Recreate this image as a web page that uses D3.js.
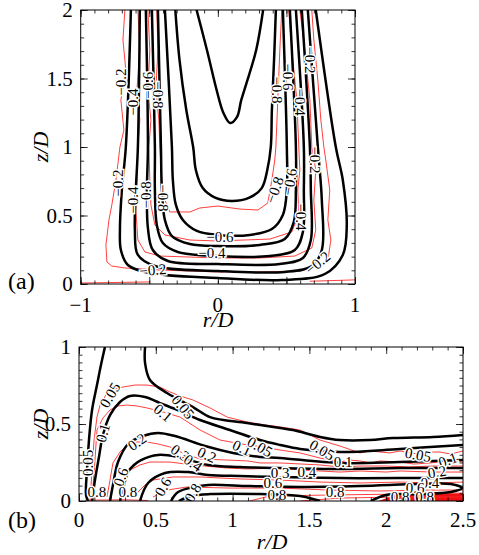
<!DOCTYPE html>
<html><head><meta charset="utf-8">
<script src="https://cdn.jsdelivr.net/npm/d3@7"></script>
<style>body{margin:0;background:#fff}svg{display:block}text{font-family:"Liberation Serif","Times New Roman",serif}</style>
</head><body>
<script>
// ---------- Panel (a) data: r/D, z/D ----------
const aXTicks = [-1, 0, 1];
const aXTickLabels = ["\u22121", "0", "1"];
const aYTicks = [0, 0.5, 1, 1.5, 2];
const aYTickLabels = ["0", "0.5", "1", "1.5", "2"];

const aBlackInner = [[-0.155,2],[-0.08,1.71],[-0.01,1.42],[0.04,1.25],[0.09,1.175],[0.14,1.22],[0.17,1.34],[0.21,1.47],[0.28,1.71],[0.33,2]];
const aBlackU1 = [[-0.31,2],[-0.28,1.64],[-0.23,1.27],[-0.18,1.0],[-0.16,0.83],[-0.11,0.70],[-0.02,0.63],[0.10,0.606],[0.23,0.63],[0.32,0.70],[0.36,0.83],[0.386,1.0],[0.394,1.27],[0.41,1.64],[0.423,2]];
const aBlackU2 = [[-0.386,2],[-0.335,1.0],[-0.328,0.759],[-0.306,0.577],[-0.255,0.467],[-0.153,0.387],[0,0.358],[0.233,0.358],[0.394,0.401],[0.474,0.504],[0.503,0.686],[0.503,1.0],[0.474,2]];
const aBlackU3 = [[-0.437,2],[-0.415,1],[-0.408,0.686],[-0.386,0.467],[-0.335,0.35],[-0.204,0.292],[0,0.277],[0.306,0.285],[0.488,0.328],[0.554,0.453],[0.569,0.686],[0.569,1],[0.525,2]];
const aBlackU4 = [[-0.481,2],[-0.459,1],[-0.459,0.686],[-0.445,0.431],[-0.401,0.299],[-0.292,0.234],[0,0.204],[0.379,0.204],[0.561,0.248],[0.620,0.380],[0.627,0.686],[0.627,1],[0.569,2]];
const aBlackU5 = [[-0.525,2],[-0.510,1],[-0.517,0.686],[-0.510,0.409],[-0.474,0.248],[-0.364,0.168],[0,0.146],[0.452,0.146],[0.62,0.19],[0.678,0.321],[0.678,0.686],[0.671,1],[0.612,2]];
const aBlackU6 = [[-0.569,2],[-0.583,1],[-0.598,0.686],[-0.605,0.394],[-0.583,0.212],[-0.459,0.131],[0,0.095],[0.488,0.088],[0.685,0.131],[0.758,0.248],[0.758,0.613],[0.729,1],[0.656,2]];
const aBlackU7 = [[-0.634,2],[-0.671,1],[-0.70,0.686],[-0.714,0.394],[-0.707,0.248],[-0.656,0.139],[-0.496,0.080],[0,0.044],[0.466,0.029],[0.78,0.073],[0.911,0.212],[0.94,0.431],[0.911,0.759],[0.86,1],[0.714,2]];
const aBlack = [aBlackInner, aBlackU1, aBlackU2, aBlackU3, aBlackU4, aBlackU5, aBlackU6, aBlackU7];

const aRedA = [[-0.678,2],[-0.692,1.781],[-0.671,1.562],[-0.707,1.343],[-0.685,1.124],[-0.714,1],[-0.743,0.759],[-0.773,0.577],[-0.794,0.467],[-0.816,0.285],[-0.809,0.161],[-0.773,0.131],[-0.678,0.117],[-0.423,0.102],[0,0.088],[0.306,0.088],[0.598,0.095],[0.743,0.131],[0.802,0.175],[0.824,0.321],[0.802,0.467],[0.816,0.686],[0.787,0.905],[0.773,1],[0.751,1.197],[0.729,1.489],[0.700,1.781],[0.685,2]];
const aRedB = [[-0.583,2],[-0.569,1.708],[-0.590,1.416],[-0.569,1.197],[-0.583,1],[-0.590,0.759],[-0.598,0.540],[-0.583,0.321],[-0.532,0.234],[-0.423,0.204],[0,0.190],[0.306,0.190],[0.561,0.204],[0.685,0.263],[0.714,0.394],[0.700,0.613],[0.714,0.832],[0.685,1],[0.671,1.343],[0.634,1.708],[0.598,2]];
const aRedC = [[-0.510,2],[-0.496,1.708],[-0.510,1.416],[-0.488,1.197],[-0.503,1],[-0.496,0.759],[-0.488,0.577],[-0.459,0.431],[-0.386,0.358],[-0.204,0.321],[0,0.314],[0.379,0.328],[0.539,0.380],[0.590,0.504],[0.583,0.686],[0.598,0.832],[0.590,1],[0.576,1.343],[0.539,1.708],[0.517,2]];
const aRedD = [[-0.445,2],[-0.437,1.708],[-0.452,1.416],[-0.430,1.197],[-0.423,1],[-0.408,0.759],[-0.386,0.613],[-0.350,0.526],[-0.204,0.526],[-0.131,0.555],[0,0.569],[0.160,0.547],[0.292,0.540],[0.364,0.591],[0.394,0.759],[0.415,0.905],[0.423,1],[0.437,1.343],[0.452,1.708],[0.466,2]];
const aRedBase1 = [[-1,0.007],[-0.5,0.015]];
const aRedBase2 = [[0.67,0.02],[1,0.03]];
const aRed = [aRedA, aRedB, aRedC, aRedD, aRedBase1, aRedBase2];

const aLabels = [
  [-0.707,1.474,"\u22120.2",-90],[-0.620,1.328,"\u22120.4",-90],[-0.510,1.45,"\u22120.6",-90],[-0.437,1.38,"\u22120.8",90],
  [-0.729,0.737,"\u22120.2",-90],[-0.620,0.613,"\u22120.4",-90],[-0.525,0.650,"\u22120.8",-90],[-0.401,0.628,"\u22120.8",90],
  [0.015,0.343,"\u22120.6",0],[-0.044,0.226,"\u22120.4",0],[-0.474,0.102,"\u22120.2",-5],
  [0.430,1.416,"\u22120.8",90],[0.510,1.511,"\u22120.6",90],[0.598,1.328,"\u22120.4",90],[0.671,1.635,"\u22120.2",90],
  [0.415,0.686,"\u22120.8",-70],[0.525,0.745,"\u22120.6",-80],[0.605,0.489,"\u22120.4",90],[0.707,0.905,"\u22120.2",90],
  [0.729,0.153,"\u22120.2",-40]
];

// ---------- Panel (b) data ----------
const bXTicks = [0, 0.5, 1, 1.5, 2, 2.5];
const bXTickLabels = ["0", "0.5", "1", "1.5", "2", "2.5"];
const bYTicks = [0, 0.5, 1];
const bYTickLabels = ["0", "0.5", "1"];

const bBlackWall = [[0.169,1],[0.143,0.883],[0.117,0.753],[0.085,0.591],[0.065,0.396],[0.052,0.201],[0.046,0.039],[0.059,0]];
const bBlack005 = [[0.430,1],[0.430,0.896],[0.462,0.786],[0.573,0.701],[0.742,0.610],[0.853,0.545],[1.094,0.506],[1.309,0.474],[1.393,0.461],[1.569,0.416],[1.699,0.396],[1.895,0.396],[2.044,0.409],[2.305,0.416],[2.5,0.429]];
const bBlack01 = [[0.085,0],[0.104,0.136],[0.130,0.286],[0.156,0.429],[0.202,0.558],[0.267,0.643],[0.332,0.682],[0.430,0.675],[0.527,0.636],[0.658,0.584],[0.788,0.526],[0.983,0.461],[1.178,0.396],[1.309,0.364],[1.439,0.338],[1.699,0.318],[2.090,0.338],[2.5,0.364]];
const bBlack02 = [[0.202,0],[0.221,0.104],[0.254,0.253],[0.319,0.370],[0.417,0.422],[0.515,0.442],[0.625,0.422],[0.821,0.357],[1.003,0.312],[1.178,0.286],[1.309,0.279],[1.699,0.247],[2.090,0.253],[2.5,0.266]];
const bBlack03 = [[0.267,0],[0.293,0.104],[0.319,0.188],[0.358,0.234],[0.404,0.266],[0.515,0.299],[0.645,0.286],[0.840,0.234],[1.048,0.221],[1.309,0.214],[1.699,0.208],[2.090,0.214],[2.5,0.214]];
const bBlack04 = [[0.397,0],[0.450,0.117],[0.560,0.182],[0.710,0.188],[0.840,0.169],[1.048,0.162],[1.309,0.156],[1.699,0.149],[2.090,0.149],[2.5,0.149]];
const bBlack06 = [[0.599,0],[0.645,0.058],[0.753,0.091],[0.840,0.104],[1.111,0.097],[1.439,0.091],[1.829,0.097],[2.220,0.110],[2.420,0.110],[2.493,0.084],[2.420,0.058],[2.220,0.045],[2.000,0.039],[1.900,0]];
const bBlack08 = [[0.650,0],[0.730,0.032],[0.853,0.045],[1.178,0.045],[1.439,0.032],[1.569,0]];
const bBlack = [bBlackWall, bBlack005, bBlack01, bBlack02, bBlack03, bBlack04, bBlack06, bBlack08];

const bRed1 = [[0.072,0],[0.085,0.201],[0.098,0.396],[0.117,0.545],[0.137,0.623],[0.182,0.701],[0.234,0.727],[0.286,0.740],[0.365,0.753],[0.443,0.753],[0.527,0.740],[0.592,0.708],[0.658,0.682],[0.742,0.656],[0.853,0.604],[0.964,0.545],[1.094,0.513],[1.211,0.494],[1.309,0.481],[1.439,0.461],[1.569,0.396],[1.699,0.357],[1.829,0.312],[1.895,0.325],[1.960,0.318],[2.025,0.312],[2.090,0.325],[2.155,0.312],[2.220,0.305],[2.285,0.318],[2.350,0.318],[2.420,0.305],[2.5,0.325]];
const bRed2 = [[0.091,0.091],[0.104,0.266],[0.117,0.461],[0.156,0.539],[0.202,0.591],[0.254,0.617],[0.313,0.623],[0.378,0.617],[0.443,0.604],[0.547,0.578],[0.658,0.545],[0.788,0.461],[0.918,0.396],[1.094,0.364],[1.200,0.351],[1.309,0.331],[1.439,0.312],[1.569,0.279],[1.640,0.266],[1.699,0.253],[1.760,0.266],[1.829,0.260],[1.900,0.247],[1.960,0.260],[2.090,0.253],[2.180,0.240],[2.285,0.247],[2.400,0.260],[2.5,0.253]];
const bRed3 = [[0.182,0.026],[0.202,0.136],[0.221,0.247],[0.267,0.318],[0.313,0.364],[0.378,0.383],[0.443,0.383],[0.515,0.370],[0.592,0.351],[0.690,0.305],[0.788,0.273],[0.964,0.266],[1.100,0.260],[1.178,0.247],[1.309,0.247],[1.450,0.240],[1.569,0.234],[1.700,0.221],[1.829,0.227],[2.000,0.227],[2.150,0.221],[2.300,0.227],[2.5,0.227]];
const bRed4 = [[0.254,0.071],[0.293,0.149],[0.332,0.201],[0.397,0.234],[0.462,0.253],[0.592,0.253],[0.742,0.234],[0.964,0.214],[1.100,0.208],[1.309,0.214],[1.450,0.201],[1.569,0.195],[1.699,0.188],[1.829,0.195],[2.000,0.188],[2.090,0.195],[2.300,0.188],[2.5,0.188]];
const bRed5 = [[0.378,0.052],[0.430,0.104],[0.482,0.136],[0.612,0.156],[0.788,0.156],[1.048,0.143],[1.309,0.136],[1.569,0.123],[1.829,0.117],[2.090,0.123],[2.300,0.117],[2.5,0.123]];
const bRed6 = [[0.482,0.026],[0.573,0.071],[0.703,0.091],[0.983,0.084],[1.309,0.084],[1.634,0.071],[1.960,0.065],[2.285,0.071],[2.5,0.071]];
const bRed7 = [[1.111,0],[1.240,0.032],[1.634,0.039],[2.090,0.045],[2.5,0.052]];
const bRed8 = [[1.439,0],[1.699,0.019],[2.090,0.026],[2.5,0.026]];
const bRed9 = [[0.04,0.005],[0.3,0.008],[0.45,0.003]];
const bRed = [bRed1, bRed2, bRed3, bRed4, bRed5, bRed6, bRed7, bRed8, bRed9];
const bRedFill = [[1.95,0],[2.05,0.035],[2.3,0.045],[2.5,0.05],[2.5,0]];

const bLabels = [
  [0.202,0.688,"0.05",-60],[0.156,0.442,"0.1",-75],[0.059,0.247,"0.05",-90],[0.378,0.383,"0.2",-35],
  [0.677,0.610,"0.05",50],[0.547,0.571,"0.1",40],[0.658,0.312,"0.3",35],[0.742,0.247,"0.4",35],
  [0.833,0.299,"0.2",25],[1.061,0.344,"0.1",25],[1.178,0.351,"0.05",30],
  [0.547,0.091,"0.6",-60],[0.742,0.052,"0.8",-60],[0.273,0.156,"0.6",-70],[0.117,0.058,"0.8",0],[0.319,0.058,"0.8",0],
  [1.309,0.182,"0.3",0],[1.484,0.188,"0.4",0],[1.263,0.117,"0.6",0],[1.289,0.039,"0.8",0],
  [1.582,0.331,"0.05",30],[1.719,0.253,"0.1",0],
  [2.207,0.299,"0.05",10],[2.402,0.266,"0.1",-20],[2.331,0.188,"0.2",-10],[2.285,0.117,"0.4",0],[2.188,0.084,"0.6",0],
  [1.667,0.058,"0.8",0],[2.09,0.026,"0.8",0],[2.25,0.026,"0.8",0]
];

// ---------- Drawing ----------
const W = 479, H = 555;
const svg = d3.select("body").append("svg").attr("width", W).attr("height", H);

const xA = d3.scaleLinear().domain([-1, 1]).range([80.7, 355]);
const yA = d3.scaleLinear().domain([0, 2]).range([284, 10]);
const xB = d3.scaleLinear().domain([0, 2.5]).range([79, 463]);
const yB = d3.scaleLinear().domain([0, 1]).range([501, 347]);

function panel(id, x, y, black, red, labels, redFill) {
  const g = svg.append("g");
  const [x0, x1] = x.range(), [y0, y1] = y.range();
  svg.append("clipPath").attr("id", id).append("rect")
    .attr("x", x0).attr("y", y1).attr("width", x1 - x0).attr("height", y0 - y1);
  const body = g.append("g").attr("clip-path", `url(#${id})`);
  const lineRed = d3.line().x(d => x(d[0])).y(d => y(d[1])).curve(d3.curveLinear);
  const lineBlack = d3.line().x(d => x(d[0])).y(d => y(d[1])).curve(d3.curveCatmullRom.alpha(0.5));
  if (redFill) body.append("path").attr("d", lineRed(redFill)).attr("fill", "#ee1111").attr("stroke", "none");
  body.selectAll("path.red").data(red).join("path").attr("class", "red")
    .attr("d", lineRed).attr("fill", "none").attr("stroke", "#ff2a2a").attr("stroke-width", 0.9);
  body.selectAll("path.blk").data(black).join("path").attr("class", "blk")
    .attr("d", lineBlack).attr("fill", "none").attr("stroke", "#000").attr("stroke-width", 2.5)
    .attr("stroke-linejoin", "round");
  body.selectAll("text.cl").data(labels).join("text").attr("class", "cl")
    .attr("transform", d => `translate(${x(d[0])},${y(d[1])}) rotate(${d[3]})`)
    .attr("text-anchor", "middle").attr("dominant-baseline", "central")
    .attr("font-size", 15).attr("fill", "#000")
    .attr("stroke", "#fff").attr("stroke-width", 3).attr("paint-order", "stroke")
    .text(d => d[2]);
  return g;
}

function frame(x, y, xMajorStep, xMinorStep, yMajorStep, yMinorStep, xTicks, xLabels, yTicks, yLabels, xLabDy) {
  const g = svg.append("g");
  const [x0, x1] = x.range(), [y0, y1] = y.range();
  const rangeTicks = (sc, step) => d3.range(Math.round((sc.domain()[1] - sc.domain()[0]) / step) + 1).map(i => sc.domain()[0] + i * step);
  const xMin = rangeTicks(x, xMinorStep), xMaj = rangeTicks(x, xMajorStep);
  const yMin = rangeTicks(y, yMinorStep), yMaj = rangeTicks(y, yMajorStep);
  const mk = (axis, tr, vals, size) => g.append("g").attr("transform", tr)
    .call(axis.tickValues(vals).tickSize(-size).tickSizeOuter(0).tickFormat(""))
    .call(s => s.select(".domain").remove());
  mk(d3.axisBottom(x), `translate(0,${y0})`, xMin, 3.5);
  mk(d3.axisBottom(x), `translate(0,${y0})`, xMaj, 7);
  mk(d3.axisTop(x), `translate(0,${y1})`, xMin, 3.5);
  mk(d3.axisTop(x), `translate(0,${y1})`, xMaj, 7);
  mk(d3.axisLeft(y), `translate(${x0},0)`, yMin, 3.5);
  mk(d3.axisLeft(y), `translate(${x0},0)`, yMaj, 7);
  mk(d3.axisRight(y), `translate(${x1},0)`, yMin, 3.5);
  mk(d3.axisRight(y), `translate(${x1},0)`, yMaj, 7);
  g.selectAll(".tick line").attr("stroke", "#000").attr("stroke-width", 0.8);
  g.append("rect").attr("x", x0).attr("y", y1).attr("width", x1 - x0).attr("height", y0 - y1)
    .attr("fill", "none").attr("stroke", "#000").attr("stroke-width", 1);
  g.selectAll("text.xt").data(xTicks).join("text").attr("class", "xt")
    .attr("x", d => x(d)).attr("y", y0 + xLabDy).attr("text-anchor", "middle").attr("font-size", 21)
    .text((d, i) => xLabels[i]);
  g.selectAll("text.yt").data(yTicks).join("text").attr("class", "yt")
    .attr("x", x0 - 8).attr("y", d => y(d)).attr("dy", "0.34em").attr("text-anchor", "end").attr("font-size", 21)
    .text((d, i) => yLabels[i]);
}

panel("clipA", xA, yA, aBlack, aRed, aLabels, null);
frame(xA, yA, 0.5, 0.1, 0.5, 0.1, aXTicks, aXTickLabels, aYTicks, aYTickLabels, 28);
panel("clipB", xB, yB, bBlack, bRed, bLabels, bRedFill);
frame(xB, yB, 0.5, 0.1, 0.5, 0.05, bXTicks, bXTickLabels, bYTicks, bYTickLabels, 26);

// axis titles
function axTitle(tx, ty, rot, txt) {
  svg.append("text").attr("transform", `translate(${tx},${ty}) rotate(${rot})`)
    .attr("text-anchor", "middle").attr("font-size", 22).attr("font-style", "italic").text(txt);
}
axTitle(218, 327, 0, "r/D");
axTitle(48, 147, -90, "z/D");
axTitle(272, 549, 0, "r/D");
axTitle(48, 424, -90, "z/D");
svg.append("text").attr("x", 8).attr("y", 289).attr("font-size", 24).text("(a)");
svg.append("text").attr("x", 8).attr("y", 528).attr("font-size", 24).text("(b)");
</script>
</body></html>
